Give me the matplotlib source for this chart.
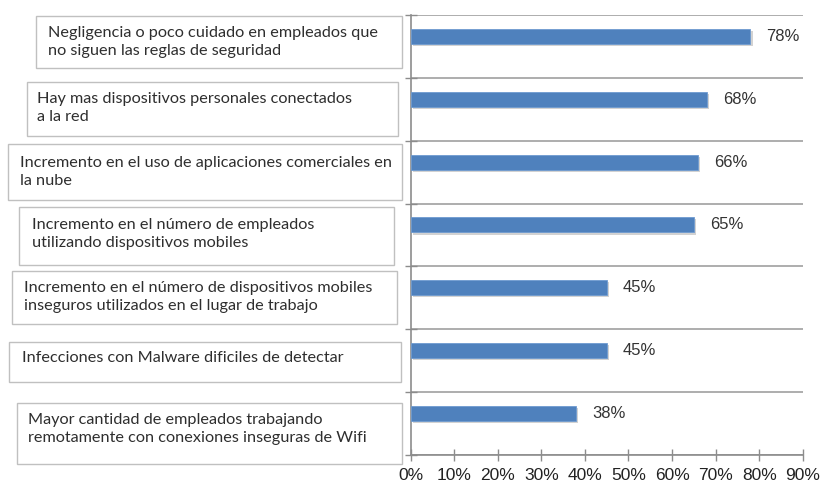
import numpy as np
import matplotlib
matplotlib.use('Agg')
from matplotlib import pyplot as plt
from matplotlib.patches import Rectangle
import matplotlib.patheffects as pe

# data
labels = [
    'Negligencia o poco cuidado en empleados que\nno siguen las reglas de seguridad',
    'Hay mas dispositivos personales conectados\na la red',
    'Incremento en el uso de aplicaciones comerciales en\nla nube',
    'Incremento en el número de empleados\nutilizando dispositivos mobiles',
    'Incremento en el número de dispositivos mobiles\ninseguros utilizados en el lugar de trabajo',
    'Infecciones con Malware dificiles de detectar',
    'Mayor cantidad de empleados trabajando\nremotamente con conexiones inseguras de Wifi',
]
values = [78, 68, 66, 65, 45, 45, 38]
xticks = [0, 10, 20, 30, 40, 50, 60, 70, 80, 90]

# label boxes in pixels: left, top, right, bottom, text left, text centre y
boxes = [
    (36, 16, 402, 68, 48, 42),
    (27, 82, 398, 136, 37, 108),
    (8, 144, 402, 200, 20, 172),
    (19, 207, 394, 265, 32, 234),
    (12, 271, 397, 324, 24, 297),
    (9, 342, 401, 382, 22, 358),
    (17, 403, 402, 464, 28, 429),
]

W, H = 821, 482
fig = plt.figure(figsize=(W / 100, H / 100), dpi=100)
ax = fig.add_axes([410.7 / W, 1 - 455 / H, (802.7 - 410.7) / W, (455 - 15) / H])

pos = np.arange(len(values))
bars = ax.barh(pos - 0.16, values, height=0.24, color='#4F81BD',
               edgecolor='#6f9bd0', linewidth=0.6, zorder=3)
for b in bars:
    b.set_path_effects([pe.SimplePatchShadow(offset=(1.5, -1.5), shadow_rgbFace='#808080', alpha=0.35),
                        pe.Normal()])
for p, v in zip(pos, values):
    ax.annotate(f'{v}%', xy=(v, p - 0.16), xytext=(11.5, 0), textcoords='offset points',
                va='center', ha='left', fontsize=12, color='#333333',
                family='Liberation Sans')

ax.set_xlim(0, 90)
ax.set_ylim(len(values) - 0.5, -0.5)
ax.set_xticks(xticks)
ax.set_xticklabels([f'{t}%' for t in xticks], fontsize=12.5, color='#222222',
                   family='Liberation Sans')
ax.set_yticks(np.arange(-0.5, len(values), 1.0))
ax.set_yticklabels([])
ax.grid(axis='y', color='#a0a0a0', linewidth=1.2, zorder=0)
ax.tick_params(axis='both', direction='inout', length=8, color='#8c8c8c', width=1)
ax.tick_params(axis='x', pad=5)
for s in ['top', 'right']:
    ax.spines[s].set_visible(False)
for s in ['left', 'bottom']:
    ax.spines[s].set_color('#8c8c8c')
    ax.spines[s].set_linewidth(1.2)

for (l, t, r, bt, tx, ty), lab in zip(boxes, labels):
    fig.add_artist(Rectangle((l / W, 1 - bt / H), (r - l) / W, (bt - t) / H,
                             transform=fig.transFigure, facecolor='white',
                             edgecolor='#c0c0c0', linewidth=1))
    fig.text(tx / W, 1 - ty / H, lab, ha='left', va='center', fontsize=11.7,
             color='#2e2e2e', family='Lato', linespacing=1.42)

fig.savefig('out.png', dpi=100)
